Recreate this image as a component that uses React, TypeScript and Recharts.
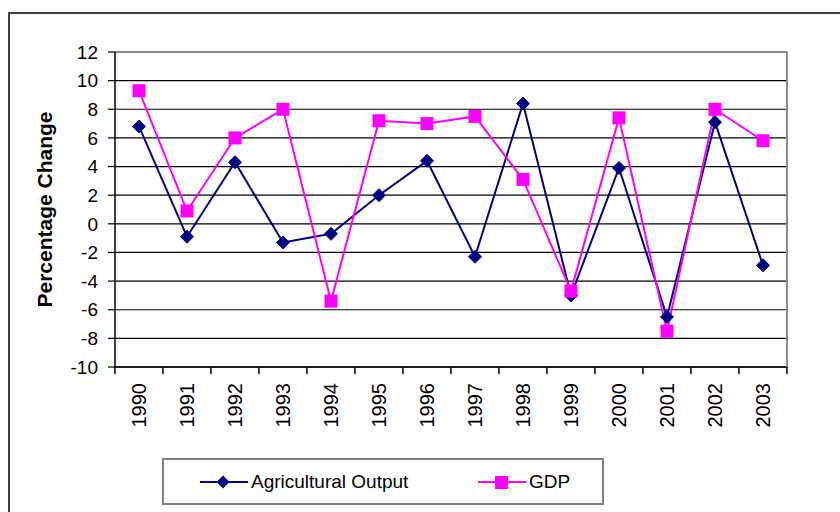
import React from "react";
import {
  LineChart,
  Line,
  XAxis,
  YAxis,
  CartesianGrid,
  ReferenceLine,
  Legend,
} from "recharts";

const years = [
  "1990", "1991", "1992", "1993", "1994", "1995", "1996",
  "1997", "1998", "1999", "2000", "2001", "2002", "2003",
];
const agriculturalOutput = [
  6.8, -0.9, 4.3, -1.3, -0.7, 2.0, 4.4, -2.3, 8.4, -5.0, 3.9, -6.5, 7.1, -2.9,
];
const gdp = [
  9.3, 0.9, 6.0, 8.0, -5.4, 7.2, 7.0, 7.5, 3.1, -4.7, 7.4, -7.5, 8.0, 5.8,
];
const yTicks = [-10, -8, -6, -4, -2, 0, 2, 4, 6, 8, 10, 12];

const data = years.map((year, i) => ({
  year,
  agri: agriculturalOutput[i],
  gdp: gdp[i],
}));

const FONT = "'Liberation Sans', Arial, sans-serif";
const NAVY = "#000080";
const MAGENTA = "#FF00FF";

const W = 840;
const H = 512;
const LEFT = 115;
const RIGHT = 53;
const TOP = 52;
const XAXIS_H = 145;
const HALF_STEP = (W - LEFT - RIGHT) / years.length / 2;

function Diamond(props: any) {
  const { cx, cy } = props;
  if (cx == null || cy == null) return null;
  const r = 6.5;
  return (
    <polygon
      points={`${cx},${cy - r} ${cx + r},${cy} ${cx},${cy + r} ${cx - r},${cy}`}
      fill={NAVY}
      stroke={NAVY}
      strokeWidth={1}
    />
  );
}

function Square(props: any) {
  const { cx, cy } = props;
  if (cx == null || cy == null) return null;
  const r = 6.5;
  return <rect x={cx - r} y={cy - r} width={r * 2} height={r * 2} fill={MAGENTA} />;
}

function YearTick(props: any) {
  const { x, y, payload, index } = props;
  const ly = y + 16;
  return (
    <g>
      <line x1={x - HALF_STEP} y1={y} x2={x - HALF_STEP} y2={y + 7} stroke="#000" strokeWidth={1.5} />
      {index === years.length - 1 && (
        <line x1={x + HALF_STEP} y1={y} x2={x + HALF_STEP} y2={y + 7} stroke="#000" strokeWidth={1.5} />
      )}
      <text
        x={x}
        y={ly}
        transform={`rotate(-90, ${x}, ${ly})`}
        textAnchor="end"
        dy="0.35em"
        fontSize={20}
        fontFamily={FONT}
        fill="#000"
      >
        {payload.value}
      </text>
    </g>
  );
}

function LegendBox() {
  const textStyle: React.CSSProperties = {
    position: "absolute",
    top: 0,
    height: "100%",
    display: "flex",
    alignItems: "center",
    fontSize: 19,
    fontFamily: FONT,
    color: "#000",
    whiteSpace: "nowrap",
  };
  return (
    <div
      style={{
        position: "relative",
        width: 442,
        height: 47,
        boxSizing: "border-box",
        border: "2px solid #808080",
        background: "#fff",
      }}
    >
      <svg style={{ position: "absolute", left: 35, top: 10 }} width={50} height={24}>
        <line x1={1} y1={12} x2={49} y2={12} stroke={NAVY} strokeWidth={2} />
        <polygon points="24,5.5 30.5,12 24,18.5 17.5,12" fill={NAVY} />
      </svg>
      <div style={{ ...textStyle, left: 87 }}>Agricultural Output</div>
      <svg style={{ position: "absolute", left: 313, top: 10 }} width={50} height={24}>
        <line x1={1} y1={12} x2={49} y2={12} stroke={MAGENTA} strokeWidth={2} />
        <rect x={18} y={6} width={13} height={13} fill={MAGENTA} />
      </svg>
      <div style={{ ...textStyle, left: 365 }}>GDP</div>
    </div>
  );
}

export default function App() {
  return (
    <div
      style={{
        position: "absolute",
        left: 0,
        top: 0,
        width: W,
        height: H,
        background: "#fff",
        overflow: "hidden",
      }}
    >
      <div
        style={{
          position: "absolute",
          left: 8,
          top: 12,
          width: 900,
          height: 600,
          borderLeft: "2px solid #404040",
          borderTop: "2px solid #404040",
          pointerEvents: "none",
        }}
      />
      <LineChart
        width={W}
        height={H}
        data={data}
        margin={{ top: TOP, right: RIGHT - 1, bottom: 0, left: 0 }}
      >
        <CartesianGrid vertical={false} stroke="#000" strokeWidth={1.2} yAxisId="left" />
        <XAxis
          dataKey="year"
          height={XAXIS_H}
          interval={0}
          padding={{ left: HALF_STEP, right: HALF_STEP }}
          tick={<YearTick />}
          tickLine={false}
          tickSize={0}
          tickMargin={0}
          axisLine={{ stroke: "#000", strokeWidth: 1.5 }}
        />
        <YAxis
          yAxisId="left"
          width={LEFT}
          domain={[-10, 12]}
          ticks={yTicks}
          interval={0}
          tickSize={7}
          tickMargin={10}
          tickLine={{ stroke: "#000", strokeWidth: 1.2 }}
          axisLine={{ stroke: "#000", strokeWidth: 1.5 }}
          tick={{ fontSize: 19, fontFamily: FONT, fill: "#000" }}
          label={(p: any) => {
            const vb = p.viewBox || {};
            const cy = (vb.y ?? TOP) + (vb.height ?? 315) / 2;
            return (
              <text
                x={45}
                y={cy}
                transform={`rotate(-90, 45, ${cy})`}
                textAnchor="middle"
                dy="0.35em"
                fontSize={21}
                fontWeight="bold"
                fontFamily={FONT}
                fill="#000"
              >
                Percentage Change
              </text>
            );
          }}
        />
        <YAxis
          yAxisId="right"
          orientation="right"
          width={1}
          domain={[-10, 12]}
          ticks={yTicks}
          tick={false}
          tickLine={false}
          axisLine={{ stroke: "#888", strokeWidth: 2 }}
        />
        <ReferenceLine yAxisId="left" y={12} stroke="#888" strokeWidth={2} />
        <Line
          yAxisId="left"
          type="linear"
          dataKey="agri"
          name="Agricultural Output"
          stroke={NAVY}
          strokeWidth={2}
          dot={<Diamond />}
          activeDot={false}
          isAnimationActive={false}
        />
        <Line
          yAxisId="left"
          type="linear"
          dataKey="gdp"
          name="GDP"
          stroke={MAGENTA}
          strokeWidth={2}
          dot={<Square />}
          activeDot={false}
          isAnimationActive={false}
        />
        <Legend
          layout="horizontal"
          verticalAlign="middle"
          align="center"
          content={<LegendBox />}
          wrapperStyle={{ position: "absolute", left: 162, top: 458, width: 442, height: 47 }}
        />
      </LineChart>
    </div>
  );
}
